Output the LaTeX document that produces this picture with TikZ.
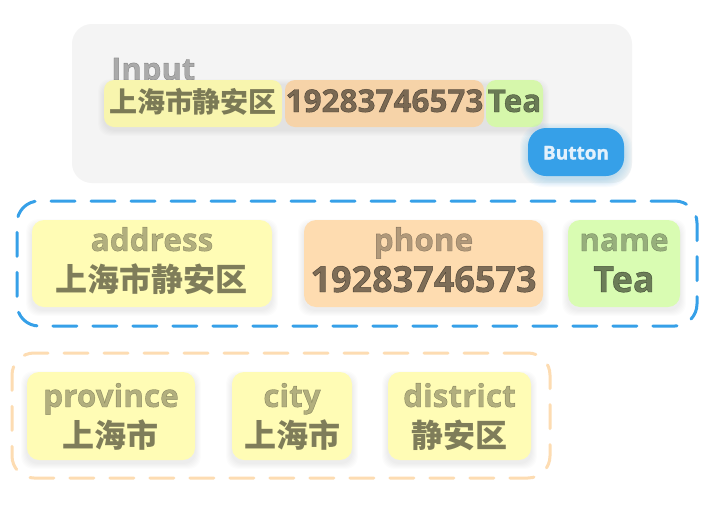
\documentclass[tikz,border=0pt]{standalone}
\usepackage{fontspec}
\setmainfont{Open Sans}[BoldFeatures={FakeBold=1.3}]
\newfontfamily\cjk{Noto Sans CJK SC}
\definecolor{panelgray}{HTML}{F4F4F4}
\definecolor{yelA}{HTML}{F8F5AE}
\definecolor{oraA}{HTML}{F6D3A8}
\definecolor{grnA}{HTML}{D6F7AB}
\definecolor{yelB}{HTML}{FFFCB5}
\definecolor{oraB}{HTML}{FEDCB0}
\definecolor{grnB}{HTML}{D9FCB2}
\definecolor{btnblue}{HTML}{36A0E8}
\definecolor{btntext}{HTML}{E3F1FC}
\definecolor{dashorange}{HTML}{FDDCB2}
\newcommand\mysoftshadow[6]{%
  \foreach \k in {1,...,6}{%
    \fill[#5, opacity=#6, rounded corners=12pt] ({#1-\k},{#2-\k+5}) rectangle ({#3+\k},{#4+\k+3});}}
\tikzset{
  panel/.style={draw=none, fill=panelgray, rounded corners=20pt, inner sep=0pt},
  chip/.style={draw=none, rounded corners=10pt, inner sep=0pt, minimum height=47pt},
  card/.style={draw=none, rounded corners=12pt, inner sep=0pt},
  group/.style={rounded corners=22pt, line width=3pt, dash pattern=on 24pt off 16pt, line cap=round, inner sep=0pt},
  txt/.style={inner sep=0pt, anchor=base, text=black},
  valtop/.style={txt, text opacity=0.5, font=\fontsize{31.5}{31.5}\selectfont\bfseries},
  cjktop/.style={txt, text opacity=0.5, font=\cjk\fontsize{28}{28}\selectfont\bfseries},
  lbl/.style={txt, text opacity=0.3, font=\fontsize{31.5}{31.5}\selectfont\bfseries},
  val/.style={txt, text opacity=0.5, font=\fontsize{36}{36}\selectfont\bfseries},
  cjkval/.style={txt, text opacity=0.5, font=\cjk\fontsize{32}{32}\selectfont\bfseries},
}
\begin{document}
\begin{tikzpicture}[x=1pt,y=-1pt]
\useasboundingbox (0,0) rectangle (716,512);
\fill[white] (0,0) rectangle (716,512);
% input panel
\node[panel, minimum width=560pt, minimum height=159pt] (inp) at (352,103.5) {};
\node[txt, anchor=base west, text opacity=0.3, font=\fontsize{31}{31}\selectfont\bfseries] (inlbl) at (111,80) {Input};
\mysoftshadow{104}{80}{543}{127}{black}{0.012}
\node[chip, fill=yelA, minimum width=178pt] (cA) at (193,103.5) {};
\node[chip, fill=oraA, minimum width=199pt] (cB) at (384.5,103.5) {};
\node[chip, fill=grnA, minimum width=57pt] (cC) at (514.5,103.5) {};
\node[cjktop] (tA) at (cA |- 0,112) {上海市静安区};
\node[valtop] (tB) at (cB |- 0,112) {19283746573};
\node[valtop] (tC) at (cC |- 0,112) {Tea};
% button
\foreach \k in {1,...,8}{\fill[btnblue, opacity=0.035, rounded corners=24pt] ({528-\k},{128-\k+3}) rectangle ({624+\k},{176+\k+3});}
\node[draw=none, fill=btnblue, rounded corners=18pt, minimum width=96pt, minimum height=48pt, inner sep=0pt] (btn) at (576,152) {};
\node[txt, text=btntext, font=\fontsize{19}{19}\selectfont\bfseries] (btnt) at (576,159.5) {Button};
% blue group
\node[group, draw=btnblue, minimum width=680pt, minimum height=125pt] (gB) at (357,263.5) {};
\mysoftshadow{32}{220}{272}{307}{black}{0.012}
\mysoftshadow{304}{220}{543}{307}{black}{0.012}
\mysoftshadow{568}{220}{680}{307}{black}{0.012}
\node[card, fill=yelB, minimum width=240pt, minimum height=87pt] (addr) at (152,263.5) {};
\node[card, fill=oraB, minimum width=239pt, minimum height=87pt] (phone) at (423.5,263.5) {};
\node[card, fill=grnB, minimum width=112pt, minimum height=87pt] (name) at (624,263.5) {};
\node[lbl] (addrL) at (addr |- 0,251) {address};
\node[lbl] (phoneL) at (phone |- 0,251) {phone};
\node[lbl] (nameL) at (name |- 0,251) {name};
\node[cjkval] (addrV) at (addr |- 0,291) {上海市静安区};
\node[val] (phoneV) at (phone |- 0,292) {19283746573};
\node[val] (nameV) at (name |- 0,292) {Tea};
% orange group
\node[group, draw=dashorange, minimum width=538pt, minimum height=125pt] (gO) at (281,415.5) {};
\mysoftshadow{27}{372}{195}{460}{black}{0.012}
\mysoftshadow{232}{372}{352}{460}{black}{0.012}
\mysoftshadow{388}{372}{531}{460}{black}{0.012}
\node[card, fill=yelB, minimum width=168pt, minimum height=88pt] (prov) at (111,416) {};
\node[card, fill=yelB, minimum width=120pt, minimum height=88pt] (city) at (292,416) {};
\node[card, fill=yelB, minimum width=143pt, minimum height=88pt] (dist) at (459.5,416) {};
\node[lbl] (provL) at (prov |- 0,407) {province};
\node[lbl] (cityL) at (city |- 0,407) {city};
\node[lbl] (distL) at (dist |- 0,407) {district};
\node[cjkval] (provV) at (prov |- 0,447) {上海市};
\node[cjkval] (cityV) at (city |- 0,447) {上海市};
\node[cjkval] (distV) at (dist |- 0,447) {静安区};
\end{tikzpicture}
\end{document}
